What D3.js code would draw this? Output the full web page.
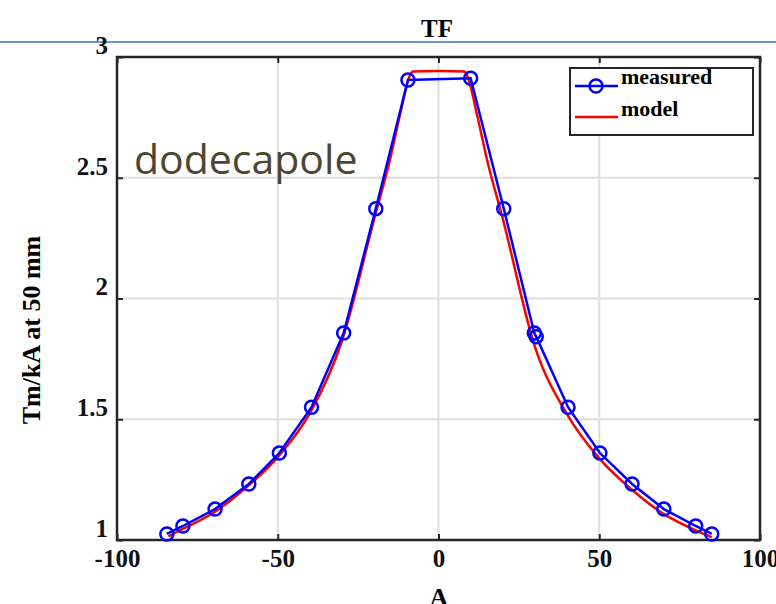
<!DOCTYPE html>
<html>
<head>
<meta charset="utf-8">
<script src="https://cdn.jsdelivr.net/npm/d3@7"></script>
<style>
  body { margin: 0; background: #fff; }
  svg { display: block; }
  .tick text { font-family: "Liberation Serif", serif; font-weight: bold; font-size: 25px; fill: #111; }
</style>
</head>
<body>
<div id="chart"></div>
<script>
// chart size
var width = 776;
var height = 604;
// plot box edges
var plotLeft = 117, plotRight = 760, plotTop = 57, plotBottom = 540;

// measured points
var measuredA = [-84.5, -79.5, -69.5, -59, -49.5, -39.5, -29.5, -19.5, -9.5, 10, 20.3, 29.8, 30.4, 40.3, 50.2, 60.2, 70.1, 80, 85];
var measuredTF = [1.025, 1.058, 1.128, 1.232, 1.36, 1.55, 1.857, 2.372, 2.905, 2.912, 2.372, 1.857, 1.842, 1.55, 1.36, 1.232, 1.128, 1.058, 1.025];

// model curve
var modelA = [-84, -80, -70, -60, -50, -40, -30, -20, -15, -12, -9, -8, 0, 8, 9, 12, 15, 20, 30, 40, 50, 60, 70, 80, 85];
var modelTF = [1.015, 1.043, 1.113, 1.215, 1.343, 1.525, 1.825, 2.33, 2.58, 2.76, 2.92, 2.94, 2.942, 2.94, 2.92, 2.76, 2.58, 2.33, 1.80, 1.52, 1.338, 1.21, 1.108, 1.04, 1.012];

var xTicks = [-100, -50, 0, 50, 100];
var yTicks = [1, 1.5, 2, 2.5, 3];

var svg = d3.select("#chart")
    .append("svg")
    .attr("width", width)
    .attr("height", height);

var x = d3.scaleLinear().domain([-100, 100]).range([plotLeft, plotRight]);
var y = d3.scaleLinear().domain([1, 3]).range([plotBottom, plotTop]);

// stray blue rule from the page behind the figure
svg.append("line")
    .attr("x1", 0).attr("x2", width)
    .attr("y1", 42).attr("y2", 42)
    .attr("stroke", "#6b96d3")
    .attr("stroke-width", 2);

// white plot background
svg.append("rect")
    .attr("x", plotLeft).attr("y", plotTop)
    .attr("width", plotRight - plotLeft).attr("height", plotBottom - plotTop)
    .attr("fill", "#fff");

// grid lines
svg.append("g")
    .selectAll("line")
    .data(xTicks.slice(1, -1))
    .enter().append("line")
    .attr("x1", d => x(d)).attr("x2", d => x(d))
    .attr("y1", plotTop).attr("y2", plotBottom)
    .attr("stroke", "#dedede").attr("stroke-width", 2);

svg.append("g")
    .selectAll("line")
    .data(yTicks.slice(1, -1))
    .enter().append("line")
    .attr("x1", plotLeft).attr("x2", plotRight)
    .attr("y1", d => y(d)).attr("y2", d => y(d))
    .attr("stroke", "#dedede").attr("stroke-width", 2);

// axes with tick labels (plain hyphen minus like the original)
var xAxis = svg.append("g")
    .attr("transform", `translate(0, ${plotBottom})`)
    .call(d3.axisBottom(x).tickValues(xTicks).tickSize(-6).tickPadding(11).tickFormat(d => String(d)));
var yAxis = svg.append("g")
    .attr("transform", `translate(${plotLeft}, 0)`)
    .call(d3.axisLeft(y).tickValues(yTicks).tickSize(-6).tickPadding(9).tickFormat(d => String(d)));
// top and right ticks
svg.append("g")
    .attr("transform", `translate(0, ${plotTop})`)
    .call(d3.axisTop(x).tickValues(xTicks).tickSize(-6).tickFormat(""));
svg.append("g")
    .attr("transform", `translate(${plotRight}, 0)`)
    .call(d3.axisRight(y).tickValues(yTicks).tickSize(-6).tickFormat(""));

svg.selectAll(".domain").remove();
svg.selectAll(".tick line").attr("stroke", "#262626").attr("stroke-width", 2);
xAxis.selectAll(".tick text").attr("dy", "0.62em");
yAxis.selectAll(".tick text").attr("dy", "-0.15em");

// plot box
svg.append("rect")
    .attr("x", plotLeft).attr("y", plotTop)
    .attr("width", plotRight - plotLeft).attr("height", plotBottom - plotTop)
    .attr("fill", "none")
    .attr("stroke", "#262626")
    .attr("stroke-width", 2.5);

// model line
var modelData = modelA.map((a, i) => [a, modelTF[i]]);
svg.append("path")
    .datum(modelData)
    .attr("fill", "none")
    .attr("stroke", "#ff0000")
    .attr("stroke-width", 2.5)
    .attr("d", d3.line().x(d => x(d[0])).y(d => y(d[1])).curve(d3.curveMonotoneX));

// measured line and circles
var measData = measuredA.map((a, i) => [a, measuredTF[i]]);
svg.append("path")
    .datum(measData)
    .attr("fill", "none")
    .attr("stroke", "#0000ff")
    .attr("stroke-width", 2.5)
    .attr("d", d3.line().x(d => x(d[0])).y(d => y(d[1])));

svg.append("g")
    .selectAll("circle")
    .data(measData)
    .enter().append("circle")
    .attr("cx", d => x(d[0]))
    .attr("cy", d => y(d[1]))
    .attr("r", 6.5)
    .attr("fill", "none")
    .attr("stroke", "#0000ff")
    .attr("stroke-width", 2.5);

// legend
var legend = svg.append("g").attr("transform", "translate(570, 68)");
legend.append("rect")
    .attr("width", 183).attr("height", 67)
    .attr("fill", "#fff")
    .attr("stroke", "#262626")
    .attr("stroke-width", 2);
legend.append("line")
    .attr("x1", 5).attr("x2", 48).attr("y1", 18).attr("y2", 18)
    .attr("stroke", "#0000ff").attr("stroke-width", 2.5);
legend.append("circle")
    .attr("cx", 26).attr("cy", 18).attr("r", 6.5)
    .attr("fill", "none").attr("stroke", "#0000ff").attr("stroke-width", 2.5);
legend.append("line")
    .attr("x1", 5).attr("x2", 48).attr("y1", 49).attr("y2", 49)
    .attr("stroke", "#ff0000").attr("stroke-width", 2.5);
legend.append("text")
    .attr("x", 51).attr("y", 16)
    .attr("font-family", "Liberation Serif, serif")
    .attr("font-weight", "bold").attr("font-size", 22)
    .text("measured");
legend.append("text")
    .attr("x", 51).attr("y", 48)
    .attr("font-family", "Liberation Serif, serif")
    .attr("font-weight", "bold").attr("font-size", 22)
    .text("model");

// annotation
svg.append("text")
    .attr("x", 134).attr("y", 174)
    .attr("font-family", "Open Sans, sans-serif")
    .attr("font-size", 41)
    .attr("fill", "#4d4630")
    .text("dodecapole");

// title and axis labels
svg.append("text")
    .attr("x", 437).attr("y", 37)
    .attr("text-anchor", "middle")
    .attr("font-family", "Liberation Serif, serif")
    .attr("font-weight", "bold").attr("font-size", 25)
    .text("TF");

svg.append("text")
    .attr("transform", "translate(40, 330) rotate(-90)")
    .attr("text-anchor", "middle")
    .attr("font-family", "Liberation Serif, serif")
    .attr("font-weight", "bold").attr("font-size", 26)
    .text("Tm/kA at 50 mm");

svg.append("text")
    .attr("x", 439).attr("y", 606)
    .attr("text-anchor", "middle")
    .attr("font-family", "Liberation Serif, serif")
    .attr("font-weight", "bold").attr("font-size", 26)
    .text("A");
</script>
</body>
</html>
